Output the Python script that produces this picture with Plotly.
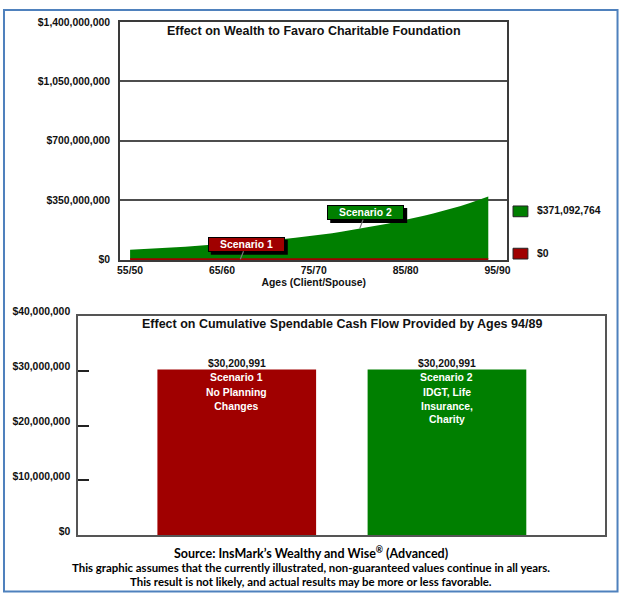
import plotly.graph_objects as go

# ---------------- data ----------------
ages = list(range(55, 95))
age_tick_vals = [55, 65, 75, 85, 95]
age_tick_text = ["55/50", "65/60", "75/70", "85/80", "95/90"]

# Wealth to Favaro Charitable Foundation (dollars)
wealth_s2 = [57e6, 59e6, 62e6, 65e6, 68e6, 71e6, 74e6, 78e6, 82e6, 86e6,
             90e6, 94e6, 99e6, 103e6, 107e6, 111e6, 116e6, 121e6, 127e6, 133e6,
             140e6, 147e6, 154e6, 162e6, 171e6, 181e6, 190e6, 200e6, 210e6, 221e6,
             232e6, 244e6, 257e6, 270e6, 284e6, 299e6, 315e6, 332e6, 351e6, 371092764]
wealth_s1 = [0, 0, 0, 0, 0, 0, 0, 0, 0, 0,
             0, 0, 0, 0, 0, 0, 0, 0, 0, 0,
             0, 0, 0, 0, 0, 0, 0, 0, 0, 0,
             0, 0, 0, 0, 0, 0, 0, 0, 0, 0]
wealth_ticks = [0, 350e6, 700e6, 1050e6, 1400e6]
wealth_tick_text = ["$0", "$350,000,000", "$700,000,000", "$1,050,000,000", "$1,400,000,000"]
legend_text = ["$371,092,764", "$0"]

scenarios = ["Scenario 1", "Scenario 2"]
scenario_desc = ["No Planning<br>Changes", "IDGT, Life<br>Insurance,<br>Charity"]
cash_flow = [30200991, 30200991]
cash_labels = ["$30,200,991", "$30,200,991"]
cash_ticks = [0, 10e6, 20e6, 30e6, 40e6]
cash_tick_text = ["$0", "$10,000,000", "$20,000,000", "$30,000,000", "$40,000,000"]

source_lines = [
    "Source: InsMark\u2019s Wealthy and Wise<sup>\u00ae</sup> (Advanced)",
    "This graphic assumes that the currently illustrated, non-guaranteed values continue in all years.",
    "This result is not likely, and actual results may be more or less favorable.",
]

RED = "#A00000"
GREEN = "#007F00"
W, H = 623, 598
FONT = "Liberation Sans, Arial, Helvetica, sans-serif"
NOTE_FONT = "Lato, Open Sans, sans-serif"


def px(x):
    return x / W


def py(y):
    return (H - y) / H


fig = go.Figure()

# ---- top chart ----
fig.add_trace(go.Scatter(x=ages, y=wealth_s2, mode="lines", fill="tozeroy",
                         line=dict(color=GREEN, width=0), fillcolor=GREEN,
                         name="Scenario 2", showlegend=False, xaxis="x", yaxis="y"))
fig.add_trace(go.Scatter(x=ages, y=wealth_s1, mode="lines",
                         line=dict(color=RED, width=2),
                         name="Scenario 1", showlegend=False, xaxis="x", yaxis="y"))

# ---- bottom chart ----
fig.add_trace(go.Bar(x=scenarios, y=cash_flow, marker=dict(color=[RED, GREEN], line=dict(width=0)),
                     width=0.755, showlegend=False, xaxis="x2", yaxis="y2"))

axis_line = dict(showline=True, linecolor="#3a3a3a", linewidth=2, mirror=True, zeroline=False)

fig.update_layout(
    width=W, height=H,
    margin=dict(l=0, r=0, t=0, b=0),
    paper_bgcolor="white", plot_bgcolor="white",
    font=dict(family=FONT, size=10.4, color="#111111", weight="bold"),
    xaxis=dict(domain=[px(118.3), px(509.3)], range=[53.92, 96.08],
               tickvals=age_tick_vals, ticktext=age_tick_text, ticks="",
               showgrid=False, anchor="y",
               title=dict(text="Ages (Client/Spouse)", standoff=3.5,
                          font=dict(size=10.4, family=FONT, weight="bold")),
               **axis_line),
    yaxis=dict(domain=[py(257), py(13.3)], range=[-4e6, 1400e6],
               tickvals=wealth_ticks, ticktext=wealth_tick_text, ticks="",
               ticklabelstandoff=6,
               showgrid=True, gridcolor="#4d4d4d", gridwidth=1.8, anchor="x",
               **axis_line),
    xaxis2=dict(domain=[px(76), px(608.3)], range=[-0.754, 1.754],
                type="category", showticklabels=False, ticks="", showgrid=False,
                anchor="y2", **dict(axis_line, linecolor="#555555")),
    yaxis2=dict(domain=[py(539), py(314)], range=[0, 40e6],
                tickvals=cash_ticks, ticktext=cash_tick_text,
                ticks="inside", ticklen=11, tickwidth=1.5, tickcolor="#222222",
                ticklabelstandoff=4, ticklabelshift=-4,
                showgrid=False, anchor="x2", **dict(axis_line, linecolor="#555555")),
)

annotations = []
shapes = []
# titles
annotations.append(dict(text="Effect on Wealth to Favaro Charitable Foundation",
                        x=px(313.8), y=py(23), xref="paper", yref="paper",
                        showarrow=False, xanchor="center", yanchor="middle",
                        font=dict(size=12.5)))
annotations.append(dict(text="Effect on Cumulative Spendable Cash Flow Provided by Ages 94/89",
                        x=px(342), y=py(322.7), xref="paper", yref="paper",
                        showarrow=False, xanchor="center", yanchor="middle",
                        font=dict(size=12.5)))

# scenario callouts on the area chart (shadow rect, then box)
BOX_W, BOX_H, SH = 77, 15, 3
callouts = [
    dict(label=scenarios[0], color=RED, age=67, value=wealth_s1[67 - 55], ax=6, ay=-15),
    dict(label=scenarios[1], color=GREEN, age=80, value=wealth_s2[80 - 55], ax=6, ay=-16),
]
for c in callouts:
    shapes.append(dict(type="rect", xref="x", yref="y",
                       xsizemode="pixel", ysizemode="pixel",
                       xanchor=c["age"], yanchor=c["value"],
                       x0=c["ax"] - BOX_W / 2 + SH, x1=c["ax"] + BOX_W / 2 + SH,
                       y0=-c["ay"] - BOX_H / 2 - SH, y1=-c["ay"] + BOX_H / 2 - SH,
                       fillcolor="black", line=dict(width=0), layer="above"))
    annotations.append(dict(text=c["label"], x=c["age"], y=c["value"], xref="x", yref="y",
                            showarrow=True, ax=c["ax"], ay=c["ay"], arrowcolor="#777777",
                            arrowhead=0, arrowwidth=1.2,
                            width=BOX_W - 4, height=BOX_H - 4, borderpad=1, borderwidth=1,
                            bgcolor=c["color"], bordercolor="black",
                            font=dict(color="white", size=10.4)))

# legend-like end labels
for txt, yc in zip(legend_text, [206.5, 250.5]):
    annotations.append(dict(text=txt, x=px(537), y=py(yc), xref="paper", yref="paper",
                            showarrow=False, xanchor="left", yanchor="middle",
                            font=dict(size=10.4)))

# bar labels
for cat, val, lab, desc in zip(scenarios, cash_flow, cash_labels, scenario_desc):
    annotations.append(dict(text=lab, x=cat, y=val, xref="x2", yref="y2",
                            showarrow=False, xanchor="center", yanchor="bottom", yshift=-2,
                            font=dict(size=10.4)))
    annotations.append(dict(text=cat, x=cat, y=val, xref="x2", yref="y2",
                            showarrow=False, xanchor="center", yanchor="top", yshift=-1,
                            font=dict(size=10.4, color="white")))
    annotations.append(dict(text=desc, x=cat, y=val, xref="x2", yref="y2",
                            showarrow=False, xanchor="center", yanchor="top", yshift=-16,
                            font=dict(size=10.4, color="white")))

# source / disclaimer
for line, yc, fs in zip(source_lines, [556.7, 571.7, 586], [12.5, 11.4, 11.4]):
    annotations.append(dict(text=line, x=px(311), y=py(yc), xref="paper", yref="paper",
                            showarrow=False, xanchor="center", yanchor="middle",
                            font=dict(family=NOTE_FONT, size=fs, color="black", weight="bold")))

fig.update_layout(annotations=annotations)

shapes += [
    # legend squares
    dict(type="rect", xref="paper", yref="paper", x0=px(515), x1=px(530), y0=py(212.7), y1=py(201.7),
         fillcolor=GREEN, line=dict(color="#222222", width=1)),
    dict(type="rect", xref="paper", yref="paper", x0=px(515), x1=px(530), y0=py(256), y1=py(245),
         fillcolor=RED, line=dict(color="#222222", width=1)),
    # outer blue frame
    dict(type="rect", xref="paper", yref="paper", x0=px(1), x1=px(620.5), y0=py(596.5), y1=py(1),
         fillcolor="rgba(0,0,0,0)", line=dict(color="#4F81BD", width=2)),
]
fig.update_layout(shapes=shapes)

fig.write_html("out.html", config={"displayModeBar": False},
               post_script="document.body.style.margin='0';document.body.style.overflow='hidden';")
